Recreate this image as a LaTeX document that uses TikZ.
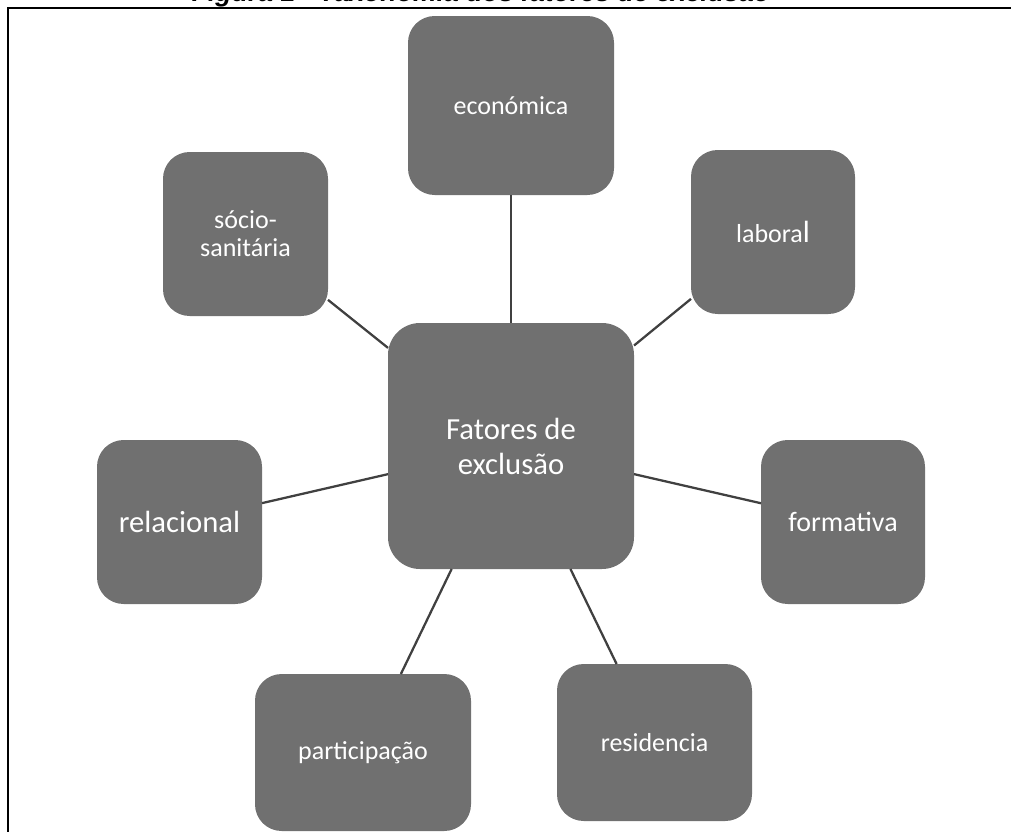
\documentclass[tikz,border=0pt]{standalone}
\usepackage{fontspec}
\setmainfont{Carlito}
\newfontfamily\titlefont{Liberation Sans}
\usetikzlibrary{positioning}
\definecolor{BoxGray}{RGB}{112, 112, 112}
\definecolor{LinkGray}{RGB}{64, 64, 64}

\tikzset{
    leafbox/.style={fill=BoxGray, rounded corners=20pt, inner sep=0pt, outer sep=0pt,
        text=white, align=center, font=\fontsize{19.5}{21}\selectfont},
    hubbox/.style={leafbox, rounded corners=24pt, minimum width=184.5pt, minimum height=184.5pt,
        font=\fontsize{23}{26.25}\selectfont},
    link/.style={draw=LinkGray, line width=1.7pt}
}

\begin{document}
\begin{tikzpicture}[x=0.75pt, y=-0.75pt]
            \useasboundingbox (0,0) rectangle (1011,832);

            % Title and frame
            \node[anchor=base, inner sep=0pt, font=\titlefont\bfseries\itshape\fontsize{20}{24}\selectfont] (title) at (481,1.5) {Figura 1 - Taxonomia dos fatores de exclusão};
            \draw[line width=1.8pt] (8,832) -- (8,8) -- (1011,8);

            % Central node
            \node[hubbox] (hub) at (511,446) {Fatores de\\exclusão};

            % Factors
            \node[leafbox, minimum width=154.5pt, minimum height=134.25pt] (economica) at (511,105.5) {económica};
            \node[leafbox, minimum width=123pt, minimum height=123pt] (laboral) at (773,232) {labora{\fontsize{23}{26}\selectfont l}};
            \node[leafbox, minimum width=123.75pt, minimum height=123pt] (socio) at (245.5,234) {sócio-\\sanitária};
            \node[leafbox, minimum width=123.75pt, minimum height=123pt, font=\fontsize{23}{26}\selectfont] (relacional) at (179.5,522) {relacional};
            \node[leafbox, minimum width=123pt, minimum height=123pt, font=\fontsize{21}{24}\selectfont] (formativa) at (843,522) {formativa};
            \node[leafbox, minimum width=162pt, minimum height=117.75pt] (participacao) at (363,752.5) {participação};
            \node[leafbox, minimum width=146.25pt, minimum height=117.75pt] (residencia) at (654.5,742.5) {residencia};

            % Links
            \draw[link] (hub) -- (economica);
            \draw[link] (hub) -- (laboral);
            \draw[link] (hub) -- (socio);
            \draw[link] (hub) -- (relacional);
            \draw[link] (hub) -- (formativa);
            \draw[link] (hub) -- (participacao);
            \draw[link] (hub) -- (residencia);
        \end{tikzpicture}
\end{document}
